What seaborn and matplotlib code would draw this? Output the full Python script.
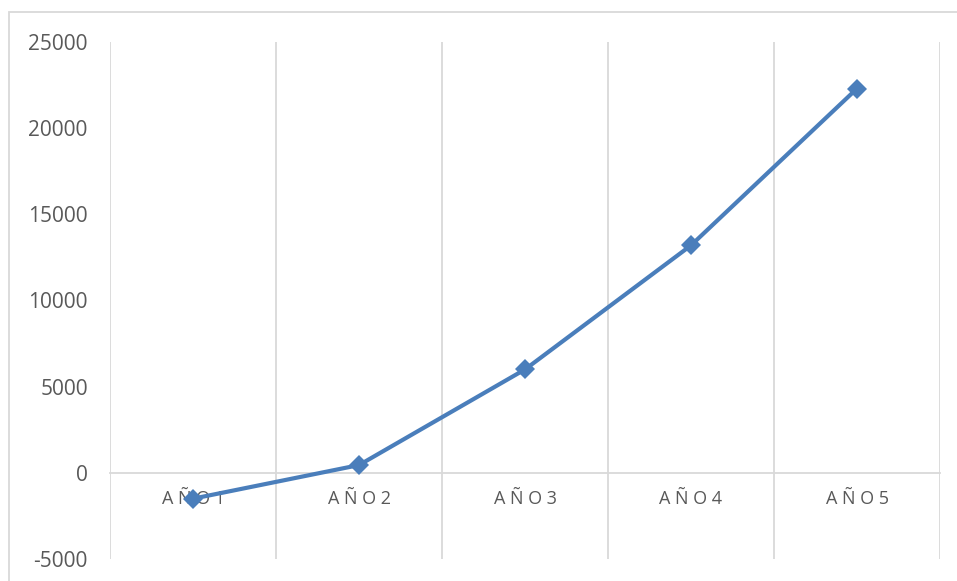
import matplotlib
matplotlib.use("Agg")
import matplotlib.pyplot as plt
from matplotlib.patches import Rectangle
from matplotlib.ticker import FixedLocator
import numpy as np
import pandas as pd
import seaborn as sns

# Series data
categories = ["AÑO1", "AÑO2", "AÑO3", "AÑO4", "AÑO5"]
values = [-1500, 450, 6000, 13200, 22300]
y_ticks = [-5000, 0, 5000, 10000, 15000, 20000, 25000]

sns.set_theme(style="white")
plt.rcParams["font.family"] = ["Open Sans", "DejaVu Sans"]

GRID = "#d9d9d9"
TEXT = "#595959"
LINE = "#4A7EBB"

fig = plt.figure(figsize=(9.57, 5.81), dpi=100)
ax = fig.add_axes([110 / 957, 22 / 581, 830 / 957, 517 / 581])

df = pd.DataFrame({"cat": categories, "val": values})
sns.lineplot(data=df, x="cat", y="val", sort=False, ax=ax, color=LINE,
             linewidth=3, marker="D", markersize=10, markeredgewidth=0,
             zorder=5)

n = len(categories)
ax.set_xlim(-0.5, n - 0.5)
ax.set_ylim(y_ticks[0], y_ticks[-1])

# Category boundaries as vertical gridlines
ax.xaxis.set_minor_locator(FixedLocator(np.arange(n + 1) - 0.5))
ax.grid(False)
ax.grid(True, which="minor", axis="x", color=GRID, linewidth=1.3)
ax.tick_params(axis="x", which="minor", length=0)

# Horizontal axis sits at zero
for s in ["top", "right", "left"]:
    ax.spines[s].set_visible(False)
ax.spines["bottom"].set_position(("data", 0))
ax.spines["bottom"].set_color(GRID)
ax.spines["bottom"].set_linewidth(1.3)

ax.set_xticks(range(n))
ax.set_xticklabels([" ".join(c) for c in categories], fontsize=13, color=TEXT)
ax.tick_params(axis="x", which="major", length=0, pad=12)

ax.set_yticks(y_ticks)
ax.set_yticklabels([str(t) for t in y_ticks], fontsize=15, color=TEXT)
ax.tick_params(axis="y", length=0, pad=16)

ax.set_xlabel("")
ax.set_ylabel("")

# Outer chart frame
fig.patches.append(Rectangle((9 / 957, -0.2), 1.2, (581 - 12) / 581 + 0.2,
                             transform=fig.transFigure, fill=False,
                             edgecolor=GRID, linewidth=1.3, zorder=0))

fig.savefig("out.png", dpi=100)
